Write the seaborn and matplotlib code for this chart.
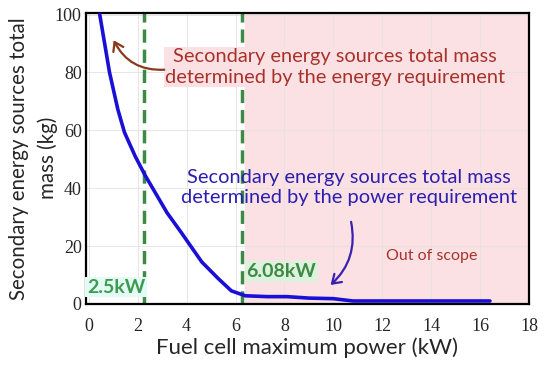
import numpy as np
import pandas as pd
import seaborn as sns
import matplotlib
matplotlib.use('Agg')
from matplotlib import pyplot as plt
from matplotlib.patches import FancyArrowPatch

# curve
power_kw = [0.45, 0.85, 1.19, 1.46, 1.9, 2.3, 2.75, 3.2, 3.77, 4.62, 5.3, 5.83, 6.4, 7.3, 8.1, 9.0, 10.0, 10.8, 16.4]
mass_kg = [100, 80, 67.2, 59.3, 51, 44.5, 38, 31.5, 24.8, 14.5, 8.7, 4.5, 2.8, 2.5, 2.5, 2.0, 1.8, 1.0, 1.0]

limit_lines = [2.25, 6.25]
limit_labels = ['2.5kW', '6.08kW']
scope_start = 6.4
xticks = [0, 2, 4, 6, 8, 10, 12, 14, 16, 18]
yticks = [0, 20, 40, 60, 80, 100]

sans = ['Lato', 'DejaVu Sans']

sns.set_style('white')
plt.rcParams['font.family'] = sans

df = pd.DataFrame(dict(power=power_kw, mass=mass_kg))

fig = plt.figure(figsize=(5.5, 3.67), dpi=100)
ax = fig.add_axes([0.156, 0.172, 0.806, 0.793])

ax.axvspan(scope_start, 18, color='#fbe1e4', zorder=0)
for xv in xticks:
    ax.axvline(xv, color='#e6e0e0', lw=0.6, zorder=0.5)
for yv in yticks:
    ax.axhline(yv, color='#e6e0e0', lw=0.6, zorder=0.5)

for xv in limit_lines:
    ax.axvline(xv, color='#3d8a45', lw=2.5, ls=(0, (3.8, 2.0)), zorder=2)

sns.lineplot(data=df, x='power', y='mass', color='#1a0fd6', lw=2.6, ax=ax, zorder=3)

ax.set_xlim(-0.12, 18)
ax.set_ylim(0, 100.6)
ax.set_xticks(xticks)
ax.set_yticks(yticks)
ax.tick_params(axis='x', length=0, pad=10)
ax.tick_params(axis='y', length=0, pad=3)
for lab in ax.get_xticklabels() + ax.get_yticklabels():
    lab.set_family('Liberation Serif')
    lab.set_fontsize(13)
for sp in ax.spines.values():
    sp.set_color('black')
    sp.set_linewidth(1.6)

ax.set_xlabel('Fuel cell maximum power (kW)', fontsize=16, labelpad=2)
ax.set_ylabel('Secondary energy sources total\nmass (kg)', fontsize=14.8, linespacing=1.5)
ax.yaxis.set_label_coords(-0.062, 0.5)

ax.text(10.06, 82, 'Secondary energy sources total mass\ndetermined by the energy requirement',
        ha='center', va='center', color='#a8322a', fontsize=14.4, linespacing=1.3,
        bbox=dict(boxstyle='square,pad=0.05', fc='#fbe1e4', ec='none'), zorder=4)
ax.text(10.65, 40.2, 'Secondary energy sources total mass\ndetermined by the power requirement',
        ha='center', va='center', color='#2b1fb0', fontsize=14.4, linespacing=1.25, zorder=4)
ax.text(14.0, 16.5, 'Out of scope', ha='center', va='center', color='#a8322a', fontsize=11.5, zorder=4)

ax.text(-0.08, 5.8, limit_labels[0], ha='left', va='center', color='#3d9a50', fontsize=14,
        fontweight='bold', bbox=dict(boxstyle='square,pad=0.08', fc='#e2fbf4', ec='none'), zorder=4)
ax.text(6.45, 11.2, limit_labels[1], ha='left', va='center', color='#3d8a45', fontsize=14,
        fontweight='bold', bbox=dict(boxstyle='square,pad=0.08', fc='#dcf2dc', ec='none'), zorder=4)

ax.add_patch(FancyArrowPatch((3.2, 81), (0.97, 92), connectionstyle='arc3,rad=-0.35',
                             arrowstyle='->,head_length=6,head_width=4', color='#8a3a1a', lw=1.6, zorder=4))
ax.add_patch(FancyArrowPatch((10.7, 29.3), (9.8, 5.9), connectionstyle='arc3,rad=-0.3',
                             arrowstyle='->,head_length=6,head_width=4', color='#3a20b0', lw=1.6, zorder=4))

fig.savefig('out.png', dpi=100)
